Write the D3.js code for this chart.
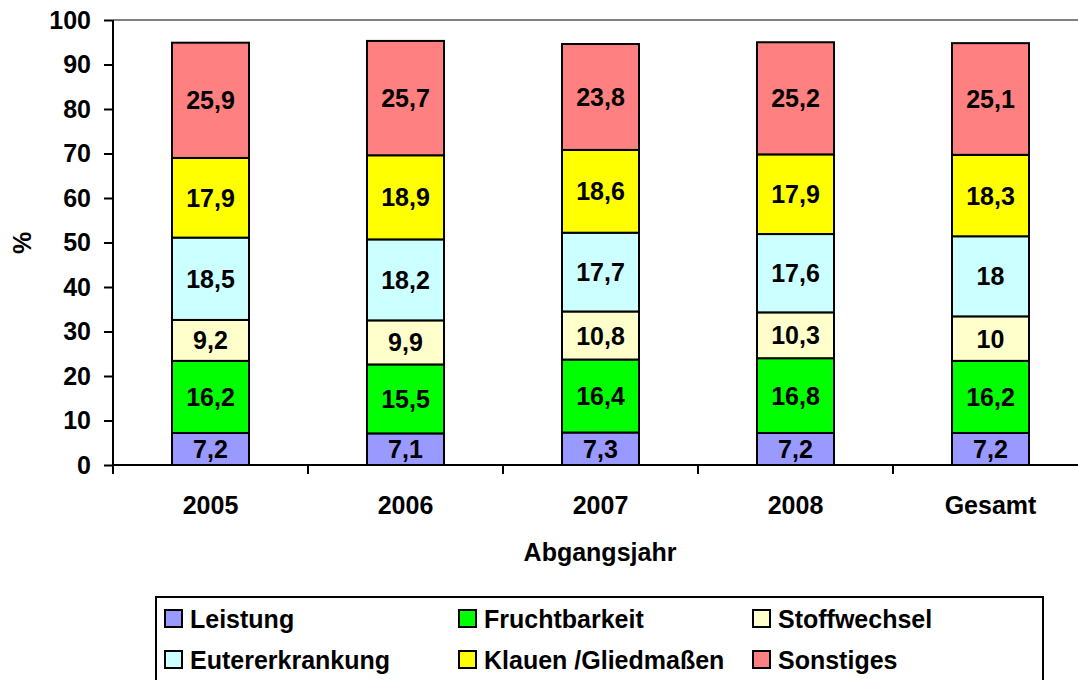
<!DOCTYPE html>
<html>
<head>
<meta charset="utf-8">
<title>Abgangsursachen</title>
<style>
  body { margin: 0; background: #fff; }
  text { font-family: "Liberation Sans", Arial, sans-serif; font-weight: bold; }
</style>
<script src="https://d3js.org/d3.v7.min.js"></script>
</head>
<body>
<svg id="chart" width="1078" height="680"></svg>
<script>
var years = ["2005", "2006", "2007", "2008", "Gesamt"];
var causes = ["Leistung", "Fruchtbarkeit", "Stoffwechsel", "Eutererkrankung", "Klauen /Gliedmaßen", "Sonstiges"];
var leistung = [7.2, 7.1, 7.3, 7.2, 7.2];
var fruchtbarkeit = [16.2, 15.5, 16.4, 16.8, 16.2];
var stoffwechsel = [9.2, 9.9, 10.8, 10.3, 10];
var euter = [18.5, 18.2, 17.7, 17.6, 18];
var klauen = [17.9, 18.9, 18.6, 17.9, 18.3];
var sonstiges = [25.9, 25.7, 23.8, 25.2, 25.1];
var yTicks = [0, 10, 20, 30, 40, 50, 60, 70, 80, 90, 100];
var colors = ["#9999FF", "#00FF00", "#FFFFCC", "#CCFFFF", "#FFFF00", "#FF8080"];

var series = [leistung, fruchtbarkeit, stoffwechsel, euter, klauen, sonstiges];

var svg = d3.select("#chart");
var plotLeft = 113, plotTop = 20, plotBottom = 465, band = 195;
var fs = "25px";

var x = d3.scaleBand().domain(years).range([plotLeft, plotLeft + band * years.length]).paddingInner(0).paddingOuter(0);
var y = d3.scaleLinear().domain([0, 100]).range([plotBottom, plotTop]);

// top border of the plot area
svg.append("line")
  .attr("x1", plotLeft).attr("x2", 1078)
  .attr("y1", y(100)).attr("y2", y(100))
  .attr("stroke", "#808080").attr("stroke-width", 2);

// stacked rows
var rows = years.map(function(yr, i) {
  var o = { year: yr };
  causes.forEach(function(c, k) { o[c] = series[k][i]; });
  return o;
});
var stacked = d3.stack().keys(causes)(rows);

var barW = 77;
stacked.forEach(function(layer, k) {
  var g = svg.append("g");
  g.selectAll("rect").data(layer).enter().append("rect")
    .attr("x", function(d) { return x(d.data.year) + (band - barW) / 2; })
    .attr("y", function(d) { return y(d[1]); })
    .attr("width", barW)
    .attr("height", function(d) { return y(d[0]) - y(d[1]); })
    .attr("fill", colors[k])
    .attr("stroke", "#000").attr("stroke-width", 2);
  g.selectAll("text").data(layer).enter().append("text")
    .attr("x", function(d) { return x(d.data.year) + band / 2; })
    .attr("y", function(d) { return (y(d[0]) + y(d[1])) / 2; })
    .attr("dy", "0.36em")
    .attr("text-anchor", "middle")
    .style("font-size", fs)
    .text(function(d) { return String(d.data[causes[k]]).replace(".", ","); });
});

// y axis
var yAxis = svg.append("g")
  .attr("transform", "translate(" + plotLeft + ",0)")
  .call(d3.axisLeft(y).tickValues(yTicks).tickSize(9).tickPadding(13));
yAxis.selectAll("path, line").attr("stroke", "#000").attr("stroke-width", 2);
yAxis.select(".domain").attr("d", "M0," + plotTop + "V" + plotBottom);
yAxis.selectAll("text").style("font-size", fs).attr("fill", "#000")
  .style("font-family", "'Liberation Sans', Arial, sans-serif").style("font-weight", "bold");

// x axis
var xAxis = svg.append("g")
  .attr("transform", "translate(0," + plotBottom + ")")
  .call(d3.axisBottom(x).tickSize(0).tickPadding(31));
xAxis.select(".domain").attr("d", "M" + plotLeft + ",0H1078").attr("stroke", "#000").attr("stroke-width", 2);
xAxis.selectAll("text").style("font-size", fs).attr("fill", "#000")
  .style("font-family", "'Liberation Sans', Arial, sans-serif").style("font-weight", "bold");
svg.append("g").selectAll("line")
  .data(years.concat(["end"]))
  .enter().append("line")
  .attr("x1", function(d, i) { return plotLeft + i * band; })
  .attr("x2", function(d, i) { return plotLeft + i * band; })
  .attr("y1", plotBottom).attr("y2", plotBottom + 9)
  .attr("stroke", "#000").attr("stroke-width", 2);

// axis titles
svg.append("text")
  .attr("transform", "translate(31,243) rotate(-90)")
  .attr("text-anchor", "middle")
  .style("font-size", fs)
  .text("%");
svg.append("text")
  .attr("x", 600).attr("y", 561)
  .attr("text-anchor", "middle")
  .style("font-size", fs)
  .text("Abgangsjahr");

// legend
svg.append("rect")
  .attr("x", 156).attr("y", 597).attr("width", 887).attr("height", 100)
  .attr("fill", "#fff").attr("stroke", "#000").attr("stroke-width", 2);
var colX = [165, 459, 753];
var rowY = [619, 660];
causes.forEach(function(c, k) {
  var cx = colX[k % 3], cy = rowY[Math.floor(k / 3)];
  svg.append("rect")
    .attr("x", cx).attr("y", cy - 9).attr("width", 17).attr("height", 17)
    .attr("fill", colors[k]).attr("stroke", "#000").attr("stroke-width", 2);
  svg.append("text")
    .attr("x", cx + 25).attr("y", cy)
    .attr("dy", "0.36em")
    .style("font-size", fs)
    .text(c);
});
</script>
</body>
</html>
